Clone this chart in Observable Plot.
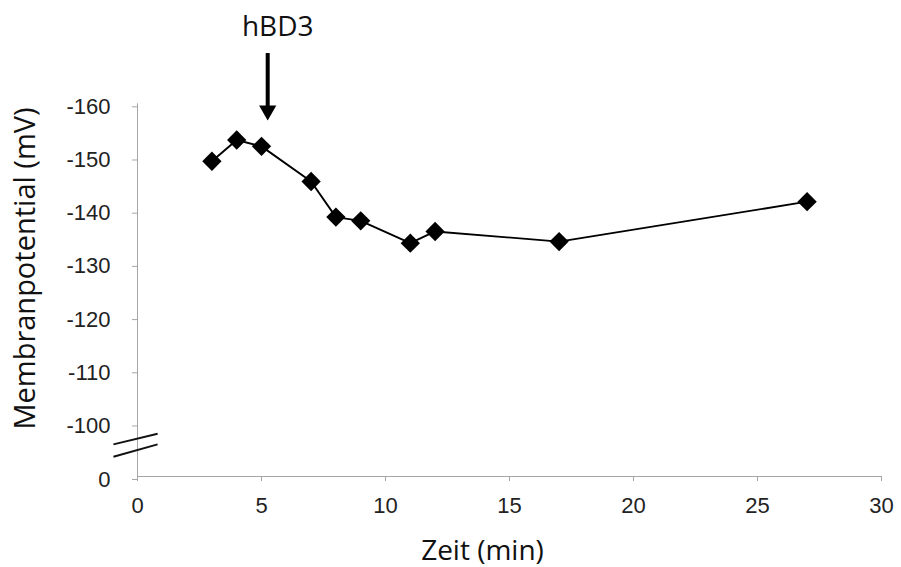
<!DOCTYPE html>
<html><head><meta charset="utf-8">
<script src="https://cdn.jsdelivr.net/npm/d3@7"></script>
<script src="https://cdn.jsdelivr.net/npm/@observablehq/plot@0.6"></script>
<style>body{margin:0;background:#fff} svg{display:block}</style>
</head><body><div id="chart"></div>
<script>
// Data
const zeit = [3, 4, 5, 7, 8, 9, 11, 12, 17, 27];
const potential = [-149.2, -153.2, -152.0, -145.4, -138.7, -138.0, -133.8, -136.0, -134.1, -141.6];
const xTicks = [0, 5, 10, 15, 20, 25, 30];
const yTicks = [0, -100, -110, -120, -130, -140, -150, -160];
const xLabel = "Zeit (min)";
const yLabel = "Membranpotential (mV)";
const annotationLabel = "hBD3";
const annotationX = 5.25;

// Broken y axis: the span 0 … -100 is compressed
const breakAt = -100, compress = 0.1006;
const brk = v => (v <= breakAt ? v : breakAt + (v - breakAt) * compress);

const data = zeit.map((x, i) => ({x, y: potential[i]}));
// axis-break marks (in data units, inside the compressed span)
const breaks = [
  {x1: -0.97, y1: -60, x2: 0.81, y2: -80},
  {x1: -0.97, y1: -37, x2: 0.81, y2: -60}
];
const axisGray = "#a6a6a6";
const titleFont = "'Open Sans', sans-serif";

const chart = Plot.plot({
  width: 901, height: 567,
  marginLeft: 137, marginRight: 74, marginTop: 60, marginBottom: 91,
  x: {domain: [0, 30], range: [137, 881]},
  y: {domain: [-160, brk(0)], range: [103.3, 476]},
  style: {fontFamily: "'Liberation Sans', Arial, sans-serif", fontSize: "22px", color: "#222", background: "#fff"},
  marks: [
    Plot.ruleX([0], {y1: brk(0), y2: -160, stroke: axisGray}),
    Plot.ruleY([brk(0)], {x1: 0, x2: 30, stroke: axisGray}),
    Plot.axisX({ticks: xTicks, tickSize: 5, tickPadding: 16, stroke: axisGray, fill: "#222", fontSize: 22, label: null, tickFormat: d => String(d)}),
    Plot.axisY(yTicks.map(brk), {tickSize: 5, tickPadding: 22, stroke: axisGray, fill: "#222", fontSize: 22, label: null, dy: 3,
      tickFormat: d => String(yTicks[yTicks.map(brk).indexOf(d)])}),
    Plot.link(breaks, {x1: "x1", y1: d => brk(d.y1), x2: "x2", y2: d => brk(d.y2), stroke: "#111", strokeWidth: 2}),
    Plot.line(data, {x: "x", y: d => brk(d.y), stroke: "#000", strokeWidth: 1.9}),
    Plot.dot(data, {x: "x", y: d => brk(d.y), symbol: "diamond2", r: 8.7, fill: "#000", stroke: "none"}),
    // annotation arrow
    Plot.ruleX([annotationX], {y1: -169.45, y2: -158.7, stroke: "#000", strokeWidth: 4}),
    Plot.dot([annotationX], {x: d => d, y: -158.74, symbol: "triangle", rotate: 180, r: 6.4, fill: "#000", stroke: "none"}),
    Plot.text([annotationLabel], {x: annotationX, y: -174.5, dx: 10, text: d => d, fontFamily: titleFont, fontSize: 28, fill: "#111", lineAnchor: "middle"}),
    // axis titles
    Plot.text([xLabel], {frameAnchor: "bottom", dy: 75, text: d => d, fontFamily: titleFont, fontSize: 28, fill: "#111", lineAnchor: "middle", textAnchor: "middle"}),
    Plot.text([yLabel], {frameAnchor: "left", dx: -112, rotate: -90, text: d => d, fontFamily: titleFont, fontSize: 29, fill: "#111", lineAnchor: "middle", textAnchor: "middle"})
  ]
});
document.getElementById("chart").appendChild(chart);
</script>
</body></html>
